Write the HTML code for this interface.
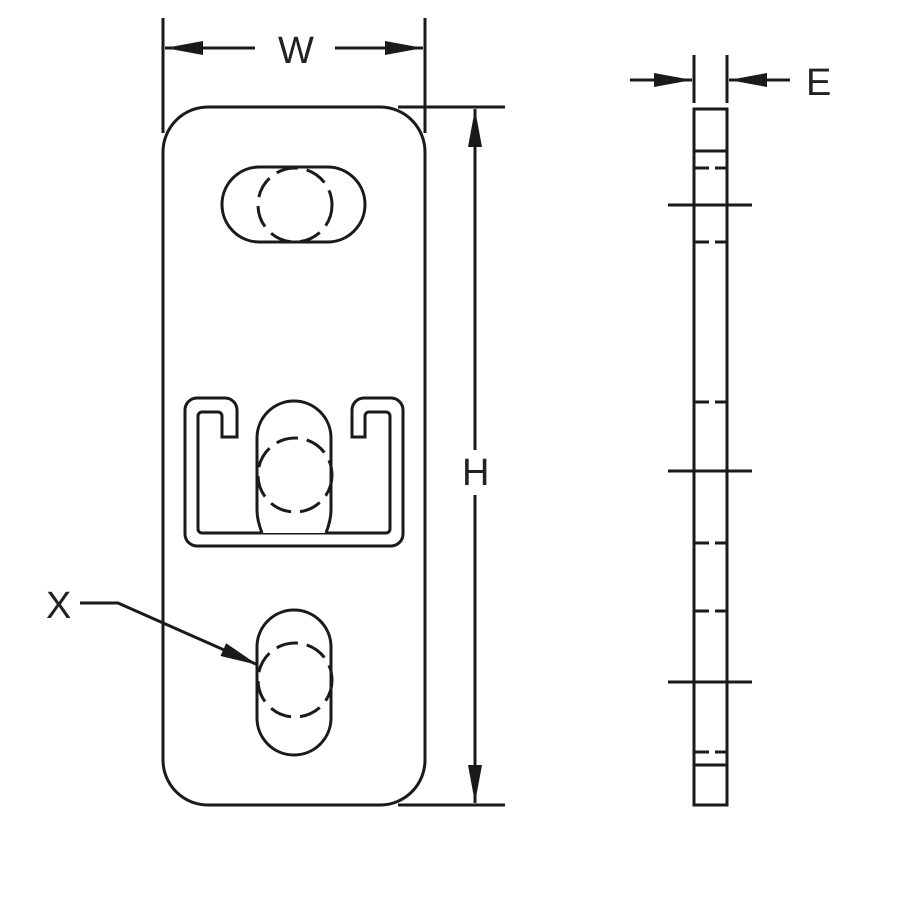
<!DOCTYPE html><html><head><style>body{margin:0;background:#fff}svg{display:block}text{font-family:"Liberation Sans",sans-serif;font-size:38px;fill:#222}</style></head><body>
<svg width="900" height="900" viewBox="0 0 900 900" fill="none" stroke="#1a1a1a" stroke-width="3">
<defs><marker id="a" markerWidth="12" markerHeight="8" refX="12" refY="4" orient="auto" markerUnits="userSpaceOnUse" viewBox="0 0 12 8"><path d="M0,0L12,4L0,8z" fill="#1a1a1a" stroke="none" transform="scale(1)"/></marker>
<marker id="b" markerWidth="38" markerHeight="14" refX="38" refY="7" orient="auto" markerUnits="userSpaceOnUse"><path d="M0,0L38,7L0,14z" fill="#1a1a1a" stroke="none"/></marker></defs>
<rect x="163" y="107" width="262" height="698" rx="45"/>
<rect x="222" y="167" width="143" height="75" rx="37.5"/>
<circle cx="295" cy="205" r="37" stroke-dasharray="22 9"/>
<path d="M237,437V410A12,12 0 0 0 225,398H197A12,12 0 0 0 185,410V534A12,12 0 0 0 197,546H391A12,12 0 0 0 403,534V410A12,12 0 0 0 391,398H364A12,12 0 0 0 352,410V437H365V416A4,4 0 0 1 369,412H386A4,4 0 0 1 390,416V529A4,4 0 0 1 386,533H202A4,4 0 0 1 198,529V416A4,4 0 0 1 202,412H218A4,4 0 0 1 222,416V437Z"/>
<path d="M262,533Q257,520 257,510V438A37,37 0 0 1 331,438V510Q331,520 326,533" fill="#fff"/>
<circle cx="295" cy="475" r="37" stroke-dasharray="22 9"/>
<rect x="257" y="610" width="74" height="145" rx="37"/>
<circle cx="295" cy="680" r="37" stroke-dasharray="22 9"/>
<path d="M163,18V133M425,18V133M398,107H505M398,805H505M694,55V103M727,55V103"/>
<path d="M255,48H165" marker-end="url(#b)"/><path d="M335,48H423" marker-end="url(#b)"/>
<path d="M475,450V109" marker-end="url(#b)"/><path d="M475,495V803" marker-end="url(#b)"/>
<path d="M630,80H692" marker-end="url(#b)"/><path d="M790,80H729" marker-end="url(#b)"/>
<path d="M80,603H118L258,665" marker-end="url(#b)"/>
<text x="278" y="63" stroke="none">W</text>
<text x="462" y="485" stroke="none">H</text>
<text x="806" y="95" stroke="none">E</text>
<text x="46" y="618" stroke="none">X</text>
<rect x="694" y="109" width="33" height="696"/>
<path d="M694,151H727M694,765H727M668,205H752M668,471H752M668,682H752"/>
<path d="M694,168H727M694,242H727M694,402H727M694,543H727M694,611H727M694,752H727M694,205H727M694,471H727M694,682H727" stroke-dasharray="15 6"/>
</svg></body></html>
